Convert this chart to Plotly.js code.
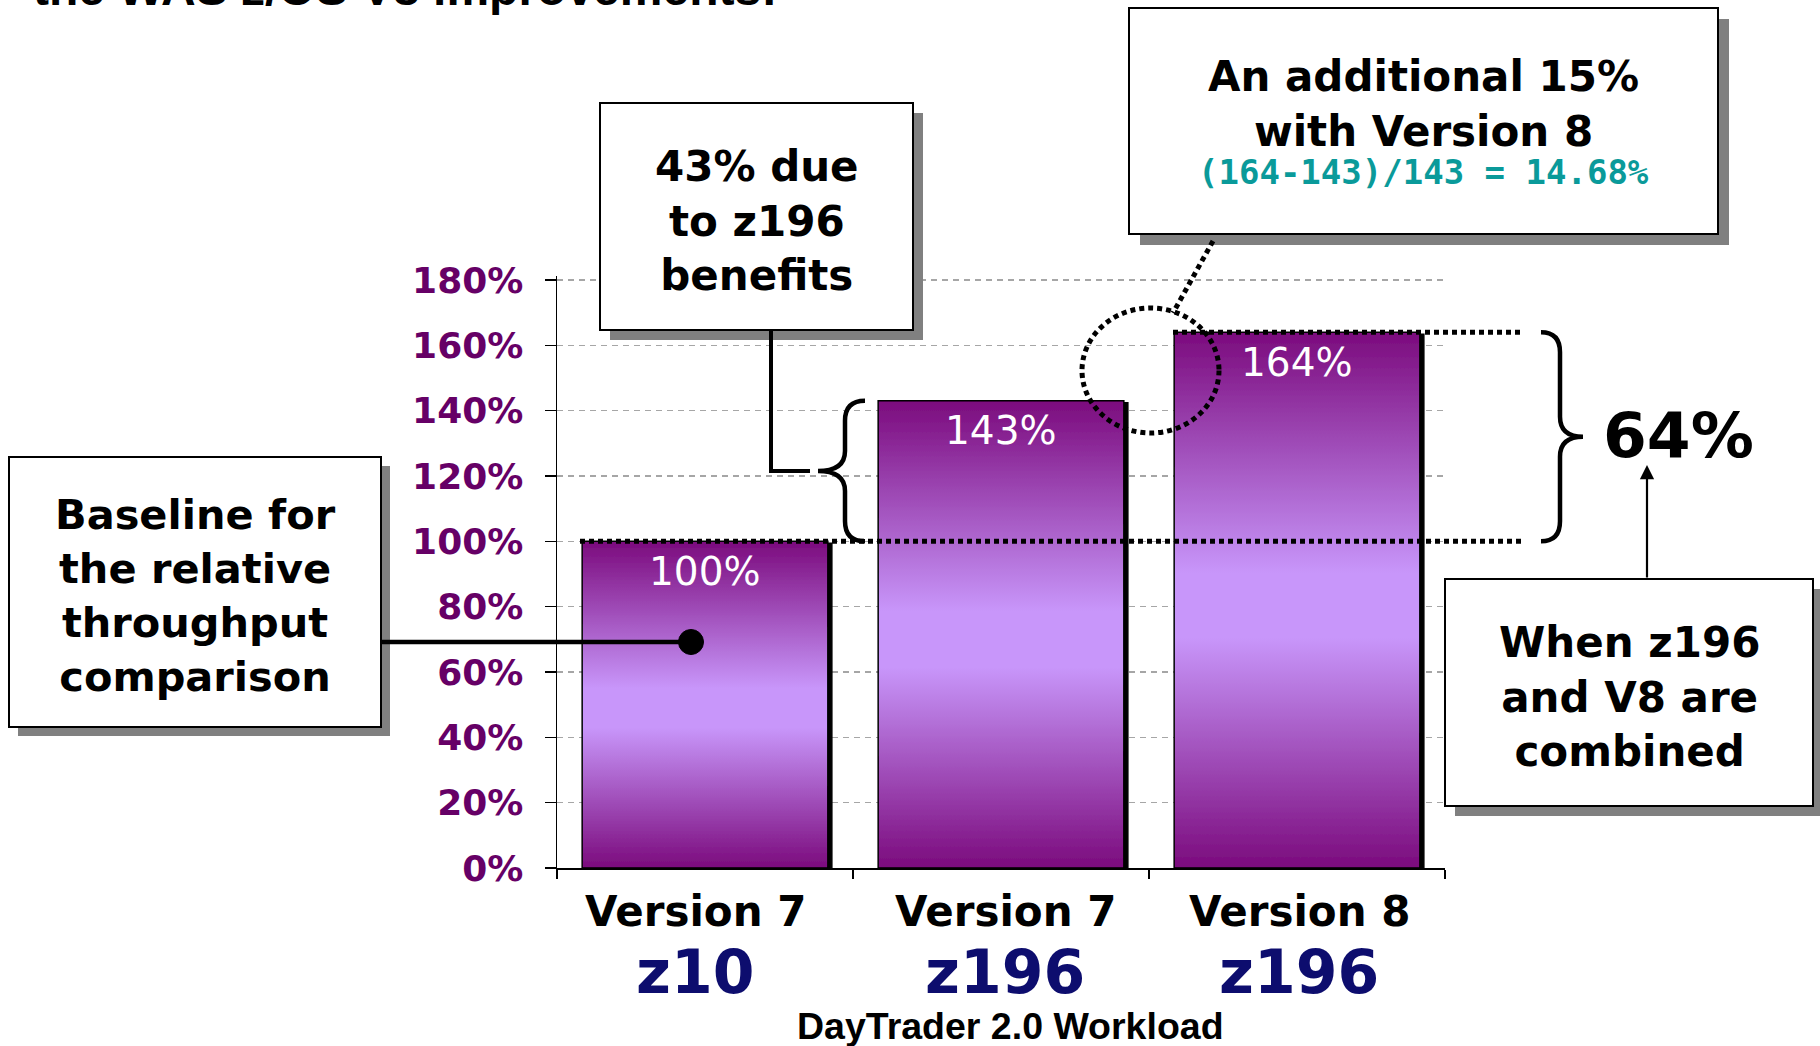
<!DOCTYPE html>
<html>
<head>
<meta charset="utf-8">
<script src="https://cdn.plot.ly/plotly-3.0.1.min.js"></script>
<style>
  html, body { margin: 0; padding: 0; background: #ffffff; }
  #chart { width: 1820px; height: 1046px; }
</style>
</head>
<body>
<div id="chart"></div>
<script>
// ---------------- data ----------------
const versions    = ['Version 7', 'Version 7', 'Version 8'];
const machines    = ['z10', 'z196', 'z196'];
const throughput  = [100, 143, 164];            // relative throughput (%)
const yTickVals   = [0, 20, 40, 60, 80, 100, 120, 140, 160, 180];
const yTickLabels = ['0%', '20%', '40%', '60%', '80%', '100%', '120%', '140%', '160%', '180%'];
const xTitle      = 'DayTrader 2.0 Workload';
const pageTitle   = 'the WAS z/OS V8 improvements:';
const noteZ196     = ['43% due', 'to z196', 'benefits'];
const noteV8       = ['An additional 15%', 'with Version 8'];
const noteV8Calc   = '(164-143)/143 = 14.68%';
const noteBaseline = ['Baseline for', 'the relative', 'throughput', 'comparison'];
const noteCombined = ['When z196', 'and V8 are', 'combined'];
const combinedGain = '64%';

const categories = versions.map((v, i) => v + ' ' + machines[i]);

// ---------------- geometry helpers (pixel -> paper) ----------------
const L = 557, R = 1445, T = 276, B = 868;
const PPU = (868 - 280) / 180;           // pixels per percent
const YMAX = (B - T) / PPU;              // a hair above 180 so the 180% gridline shows
const X = p => (p - L) / (R - L);
const Y = p => (B - p) / (B - T);
const dv = px => px / PPU;               // pixel length -> data units
const labelShift = [-10, 4, 2];          // small horizontal nudges of category labels (px)

const BLACK = '#000000';
const SANS = 'DejaVu Sans, Verdana, sans-serif';
const ARIAL = 'Liberation Sans, Arial, sans-serif';

function rect(x0, y0, x1, y1, fill, lineColor, lw) {
  return { type: 'rect', xref: 'paper', yref: 'paper', layer: 'above',
    x0: X(x0), x1: X(x1), y0: Y(y1), y1: Y(y0),
    fillcolor: fill, line: { color: lineColor || fill, width: lw || 0 } };
}
function box(x0, y0, x1, y1, off) {
  return [rect(x0 + off, y0 + off, x1 + off, y1 + off, '#808080'),
          rect(x0, y0, x1, y1, '#ffffff', BLACK, 2)];
}
function brace(xEnd, xMid, xTip, yTop, yBot, r) {
  const yTip = (yTop + yBot) / 2;
  const p = `M${xEnd},${yTop} Q${xMid},${yTop} ${xMid},${yTop - r} ` +
            `L${xMid},${yTip + r} Q${xMid},${yTip} ${xTip},${yTip} ` +
            `Q${xMid},${yTip} ${xMid},${yTip - r} L${xMid},${yBot + r} ` +
            `Q${xMid},${yBot} ${xEnd},${yBot}`;
  return { type: 'path', xref: 'paper', yref: 'y', layer: 'above', path: p,
           line: { color: BLACK, width: 4.5 } };
}
const dotted = { color: BLACK, width: 5, dash: '5px,4px' };

const shapes = [
  ...box(600, 103, 913, 330, 10),
  ...box(1129, 8, 1718, 234, 11),
  ...box(9, 457, 381, 727, 9),
  ...box(1445, 579, 1813, 806, 10),
  // connector from "43%" box to left brace
  { type: 'path', xref: 'paper', yref: 'paper', layer: 'above',
    path: `M${X(771)},${Y(330)} L${X(771)},${Y(471)} L${X(810)},${Y(471)}`,
    line: { color: BLACK, width: 4 } },
  // connector from baseline box to dot in first bar
  { type: 'line', xref: 'paper', yref: 'paper', layer: 'above',
    x0: X(381), x1: X(691), y0: Y(642), y1: Y(642), line: { color: BLACK, width: 4.5 } },
  { type: 'circle', xref: 'paper', yref: 'paper', layer: 'above',
    x0: X(678.5), x1: X(703.5), y0: Y(654.5), y1: Y(629.5),
    fillcolor: BLACK, line: { color: BLACK, width: 1 } },
  // dotted reference lines at bar tops
  { type: 'line', xref: 'paper', yref: 'y', layer: 'above',
    x0: X(580), x1: X(1523), y0: throughput[0], y1: throughput[0], line: dotted },
  { type: 'line', xref: 'paper', yref: 'y', layer: 'above',
    x0: X(1173), x1: X(1520), y0: throughput[2], y1: throughput[2], line: dotted },
  // dotted circle + its connector
  { type: 'circle', xref: 'paper', yref: 'paper', layer: 'above',
    x0: X(1082), x1: X(1219), y0: Y(433), y1: Y(308), line: dotted },
  { type: 'line', xref: 'paper', yref: 'paper', layer: 'above',
    x0: X(1213), x1: X(1173), y0: Y(241), y1: Y(313), line: dotted },
  // braces
  brace(X(865), X(845), X(818), throughput[1], throughput[0], dv(20)),
  brace(X(1541), X(1560), X(1583), throughput[2], throughput[0], dv(20))
];

function textNote(lines, cx, cy, size, extra) {
  return Object.assign({ xref: 'paper', yref: 'paper', x: X(cx), y: Y(cy),
    xanchor: 'center', yanchor: 'middle', showarrow: false, align: 'center',
    text: lines.join('<br>'),
    font: { family: SANS, size: size, weight: 'bold', color: BLACK } }, extra || {});
}

const annotations = [
  { xref: 'paper', yref: 'paper', x: X(31), y: Y(17), xanchor: 'left', yanchor: 'bottom',
    showarrow: false, text: pageTitle,
    font: { family: ARIAL, size: 48, weight: 'bold', color: BLACK } },
  textNote(noteZ196, 757, 221, 42),
  textNote(noteV8, 1423, 104, 42),
  textNote([noteV8Calc], 1423, 172, 34,
    { font: { family: 'DejaVu Sans Mono, monospace', size: 34, weight: 'bold', color: '#0a9a9a' } }),
  textNote(noteBaseline, 195, 595, 41.5),
  textNote(noteCombined, 1629, 696.5, 42),
  textNote([combinedGain], 1678, 435, 63),
  { xref: 'paper', yref: 'paper', x: X(1647), y: Y(465), ax: 0, ay: 114,
    text: '', showarrow: true, arrowhead: 2, arrowsize: 1.3, arrowwidth: 2.2,
    arrowcolor: BLACK, standoff: 0 },
  { xref: 'paper', yref: 'paper', x: X(1010), y: Y(1026), xanchor: 'center', yanchor: 'middle',
    showarrow: false, text: xTitle,
    font: { family: ARIAL, size: 37.5, weight: 'bold', color: BLACK } }
];
categories.forEach((c, i) => {
  annotations.push({ xref: 'x', yref: 'y', x: c, y: throughput[i], yshift: -30,
    xanchor: 'center', yanchor: 'middle', showarrow: false, text: throughput[i] + '%',
    font: { family: SANS, size: 39, color: '#ffffff' } });
  annotations.push({ xref: 'x', yref: 'paper', x: c, y: Y(911.5), xshift: labelShift[i],
    xanchor: 'center', yanchor: 'middle', showarrow: false, text: versions[i],
    font: { family: SANS, size: 42, weight: 'bold', color: BLACK } });
  annotations.push({ xref: 'x', yref: 'paper', x: c, y: Y(972), xshift: labelShift[i],
    xanchor: 'center', yanchor: 'middle', showarrow: false, text: machines[i],
    font: { family: SANS, size: 60, weight: 'bold', color: '#0d0d6e' } });
});

const data = [{
  type: 'bar', x: categories, y: throughput,
  marker: { color: '#a868d0', line: { color: BLACK, width: 1.5 } },
  hoverinfo: 'skip'
}];

const layout = {
  width: 1820, height: 1046,
  margin: { l: L, r: 1820 - R, t: T, b: 1046 - B, pad: 0 },
  paper_bgcolor: '#ffffff', plot_bgcolor: '#ffffff',
  showlegend: false, bargap: 0.17,
  xaxis: {
    type: 'category', showticklabels: false, showgrid: false, zeroline: false,
    showline: true, linecolor: BLACK, linewidth: 2,
    ticks: 'outside', tickson: 'boundaries', ticklen: 9, tickwidth: 1.5, tickcolor: BLACK
  },
  yaxis: {
    range: [0, YMAX], tickmode: 'array', tickvals: yTickVals, ticktext: yTickLabels,
    showline: true, linecolor: BLACK, linewidth: 1.5, zeroline: false,
    ticks: 'outside', ticklen: 11, tickwidth: 1.5, tickcolor: BLACK,
    ticklabelstandoff: 14,
    tickfont: { family: SANS, size: 36, weight: 'bold', color: '#660066' },
    showgrid: true, gridcolor: '#a6a6a6', gridwidth: 1.5, griddash: '6px,5px'
  },
  shapes: shapes,
  annotations: annotations
};

function styleBars(gd) {
  const svg = gd.querySelector('.main-svg');
  if (!svg) return;
  const NS = 'http://www.w3.org/2000/svg';
  if (!document.getElementById('barGrad')) {
    let defs = svg.querySelector('defs');
    if (!defs) { defs = document.createElementNS(NS, 'defs'); svg.insertBefore(defs, svg.firstChild); }
    const g = document.createElementNS(NS, 'linearGradient');
    g.setAttribute('id', 'barGrad');
    g.setAttribute('x1', '0'); g.setAttribute('y1', '0');
    g.setAttribute('x2', '0'); g.setAttribute('y2', '1');
    [[0, '#7b0b7d'], [0.45, '#c896fa'], [0.57, '#c896fa'], [1, '#7b0b7d']].forEach(s => {
      const st = document.createElementNS(NS, 'stop');
      st.setAttribute('offset', s[0]); st.setAttribute('stop-color', s[1]);
      g.appendChild(st);
    });
    defs.appendChild(g);
    const f = document.createElementNS(NS, 'filter');
    f.setAttribute('id', 'barShadow');
    f.setAttribute('x', '-10%'); f.setAttribute('y', '-10%');
    f.setAttribute('width', '130%'); f.setAttribute('height', '130%');
    const ds = document.createElementNS(NS, 'feDropShadow');
    ds.setAttribute('dx', '4'); ds.setAttribute('dy', '2'); ds.setAttribute('stdDeviation', '0');
    ds.setAttribute('flood-color', '#000'); ds.setAttribute('flood-opacity', '1');
    f.appendChild(ds);
    defs.appendChild(f);
  }
  gd.querySelectorAll('.barlayer .point path').forEach(p => {
    p.style.fill = 'url(#barGrad)';
    p.setAttribute('filter', 'url(#barShadow)');
  });
}

const gd = document.getElementById('chart');
Plotly.newPlot(gd, data, layout, { displayModeBar: false, staticPlot: true })
  .then(() => { styleBars(gd); gd.on && gd.on('plotly_afterplot', () => styleBars(gd)); });
</script>
</body>
</html>
